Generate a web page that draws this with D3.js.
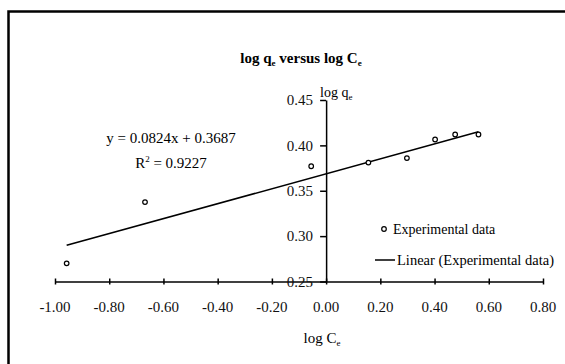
<!DOCTYPE html>
<html>
<head>
<meta charset="utf-8">
<script src="https://cdn.jsdelivr.net/npm/d3@7"></script>
<style>
  html, body { margin: 0; padding: 0; background: #fff; }
  svg { display: block; font-family: "Liberation Serif", "DejaVu Serif", serif; }
</style>
</head>
<body>
<svg id="chart" width="565" height="364"></svg>
<script>
// ---- data ----
const logCe = [-0.957, -0.668, -0.055, 0.156, 0.298, 0.402, 0.476, 0.562];
const logQe = [0.270, 0.3375, 0.377, 0.381, 0.386, 0.4065, 0.412, 0.412];
const xTicks = [-1.0, -0.8, -0.6, -0.4, -0.2, 0.0, 0.2, 0.4, 0.6, 0.8];
const yTicks = [0.25, 0.30, 0.35, 0.40, 0.45];
const slope = 0.0824;
const intercept = 0.3687;
const eqLabel = "y = 0.0824x + 0.3687";
const r2Value = "0.9227";

const svg = d3.select("#chart");

// frame (left and top edges visible)
svg.append("path")
  .attr("d", "M8.5,364 L8.5,11.5 L565,11.5")
  .attr("fill", "none").attr("stroke", "#000").attr("stroke-width", 2.5);

const x = d3.scaleLinear().domain([-1.0, 0.8]).range([55, 543]);
const y = d3.scaleLinear().domain([0.25, 0.45]).range([281.5, 100]);

// x axis
const xAxis = svg.append("g").attr("transform", `translate(0,${y(0.25)})`)
  .call(d3.axisBottom(x).tickValues(xTicks).tickSize(0).tickPadding(0).tickFormat(d3.format(".2f")));
xAxis.select(".domain").attr("stroke", "#000").attr("stroke-width", 1.5);
xAxis.selectAll(".tick text").remove();
xAxis.selectAll(".tick").append("line").attr("y1", -3).attr("y2", 3).attr("stroke", "#000").attr("stroke-width", 1.5);
svg.append("g").selectAll("text").data(xTicks).join("text")
  .attr("x", d => x(d)).attr("y", 312)
  .attr("text-anchor", "middle").attr("font-size", 15).attr("fill", "#111")
  .text(d => d3.format(".2f")(d).replace("\u2212", "-"));

// y axis at x = 0
const yAxis = svg.append("g").attr("transform", `translate(${x(0)},0)`)
  .call(d3.axisLeft(y).tickValues(yTicks).tickSize(6).tickSizeOuter(0).tickPadding(7).tickFormat(d3.format(".2f")));
yAxis.select(".domain").attr("stroke", "#000").attr("stroke-width", 1.5);
yAxis.selectAll(".tick line").attr("stroke", "#000").attr("stroke-width", 1.5);
yAxis.selectAll(".tick text").attr("font-size", 15).attr("fill", "#111")
  .attr("font-family", "Liberation Serif, serif");

// trend line
const xMin = d3.min(logCe), xMax = d3.max(logCe);
svg.append("line")
  .attr("x1", x(xMin)).attr("y1", y(slope * xMin + intercept))
  .attr("x2", x(xMax)).attr("y2", y(slope * xMax + intercept))
  .attr("stroke", "#000").attr("stroke-width", 1.5);

// data points
svg.append("g").selectAll("circle").data(logCe).join("circle")
  .attr("cx", d => x(d)).attr("cy", (d, i) => y(logQe[i]))
  .attr("r", 2.3).attr("fill", "#fff").attr("stroke", "#000").attr("stroke-width", 1.2);

// title
const title = svg.append("text").attr("x", 301).attr("y", 63)
  .attr("text-anchor", "middle").attr("font-size", 15).attr("font-weight", "bold");
title.append("tspan").text("log q");
title.append("tspan").attr("font-size", 9).attr("dy", 3).text("e");
title.append("tspan").attr("dy", -3).text(" versus log C");
title.append("tspan").attr("font-size", 9).attr("dy", 3).text("e");

// y axis title
const yt = svg.append("text").attr("x", 320).attr("y", 97).attr("font-size", 14);
yt.append("tspan").text("log q");
yt.append("tspan").attr("font-size", 9).attr("dy", 3).text("e");

// x axis title
const xt = svg.append("text").attr("x", 322).attr("y", 343).attr("text-anchor", "middle").attr("font-size", 15);
xt.append("tspan").text("log C");
xt.append("tspan").attr("font-size", 9).attr("dy", 3).text("e");

// equation
svg.append("text").attr("x", 171).attr("y", 143).attr("text-anchor", "middle")
  .attr("font-size", 15).text(eqLabel);
const r2 = svg.append("text").attr("x", 171).attr("y", 168).attr("text-anchor", "middle").attr("font-size", 15);
r2.append("tspan").text("R");
r2.append("tspan").attr("font-size", 9).attr("dy", -6).text("2");
r2.append("tspan").attr("dy", 6).text(" = " + r2Value);

// legend
svg.append("circle").attr("cx", 384).attr("cy", 229).attr("r", 2.3)
  .attr("fill", "#fff").attr("stroke", "#000").attr("stroke-width", 1.2);
svg.append("text").attr("x", 393).attr("y", 234).attr("font-size", 14).text("Experimental data");
svg.append("line").attr("x1", 375).attr("x2", 395).attr("y1", 260).attr("y2", 260)
  .attr("stroke", "#000").attr("stroke-width", 1.5);
svg.append("text").attr("x", 397).attr("y", 265).attr("font-size", 14.5).text("Linear (Experimental data)");
</script>
</body>
</html>
